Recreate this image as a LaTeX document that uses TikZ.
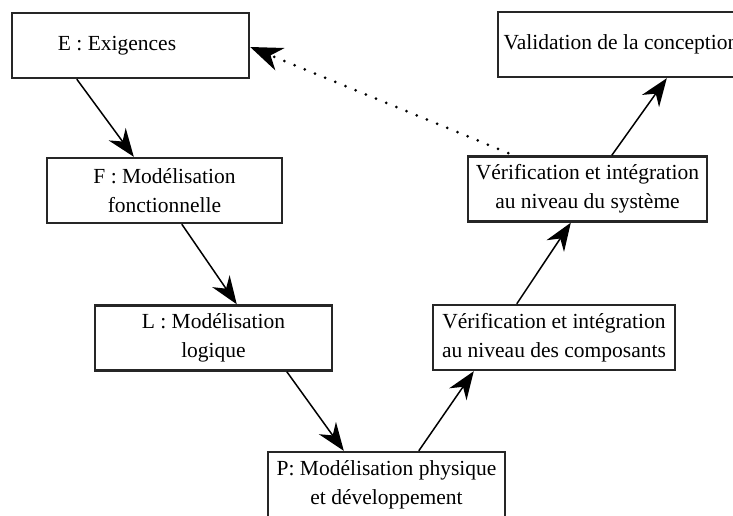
\documentclass[tikz,border=0pt]{standalone}
\usepackage{fontspec}
\setmainfont{Liberation Serif}
\usetikzlibrary{arrows.meta}

\tikzset{
  stage/.style={draw=black!85, line width=2.4pt, fill=white, rectangle,
    inner sep=0pt, align=center, minimum height=65pt,
    font=\fontsize{21.5pt}{29pt}\selectfont},
  flow/.style={line width=1.5pt, -{Stealth[length=28pt, width=21pt, inset=9pt]}},
  feedback/.style={line width=3pt, line cap=round, dash pattern=on 0pt off 11pt,
    -{Stealth[length=32pt, width=24pt, inset=10pt]}, shorten <=6pt}
}

\begin{document}
\begin{tikzpicture}[x=1pt, y=-1pt]
  \useasboundingbox (0,0) rectangle (733,516);
  \clip (0,0) rectangle (733,516);

  % descending branch
  \node[stage, minimum width=237pt] (E) at (130.5,45.5) {E : Exigences\hspace*{27pt}};
  \node[stage, minimum width=235pt] (F) at (164.5,190.5) {F : Modélisation\\fonctionnelle};
  \node[stage, minimum width=237pt] (L) at (213.5,338) {L : Modélisation\\logique};
  \node[stage, minimum width=237pt] (P) at (386.5,484.5) {P: Modélisation physique\\et développement};

  % ascending branch
  \node[stage, minimum width=242pt] (C) at (554,337.5) {Vérification et intégration\\au niveau des composants};
  \node[stage, minimum width=239pt] (S) at (587.5,189) {Vérification et intégration\\au niveau du système};
  \node[stage, minimum width=246pt] (V) at (621,44.5) {Validation de la conception};

  % connectors
  \draw[flow] ([xshift=66pt]E.south west) -- ([xshift=88pt]F.north west);
  \draw[flow] ([xshift=136pt]F.south west) -- ([xshift=143pt]L.north west);
  \draw[flow] ([xshift=193pt]L.south west) -- ([xshift=77pt]P.north west);
  \draw[flow] ([xshift=152pt]P.north west) -- ([xshift=42pt]C.south west);
  \draw[flow] ([xshift=85pt]C.north west) -- ([xshift=104pt]S.south west);
  \draw[flow] ([xshift=145pt]S.north west) -- ([xshift=170pt]V.south west);

  % feedback to the requirements
  \draw[feedback] ([xshift=47pt]S.north west) -- ([yshift=-1.5pt]E.east);
\end{tikzpicture}
\end{document}
